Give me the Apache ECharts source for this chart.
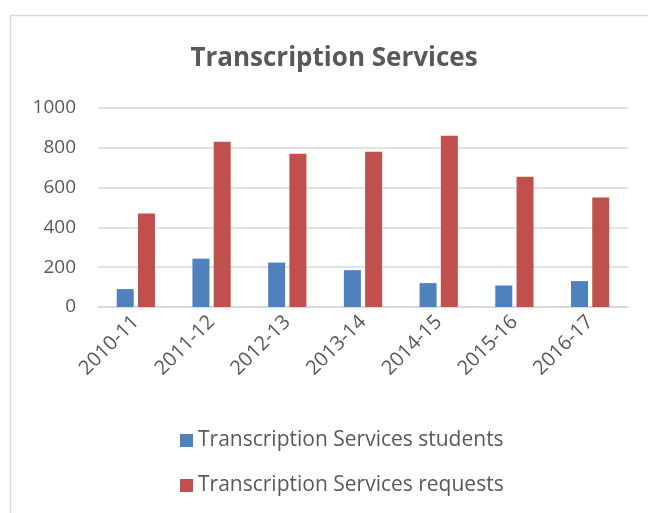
<!DOCTYPE html>
<html>
<head>
<meta charset="utf-8">
<script src="https://cdn.jsdelivr.net/npm/echarts@6/dist/echarts.min.js"></script>
<style>
    html, body { margin: 0; padding: 0; background: #fff; }
    #chart { width: 648px; height: 513px; }
</style>
</head>
<body>
<div id="chart"></div>
<script>
    // 年度
    var categories = ['2010-11', '2011-12', '2012-13', '2013-14', '2014-15', '2015-16', '2016-17'];
    var seriesNames = ['Transcription Services students', 'Transcription Services requests'];
    var students = [90, 243, 223, 185, 120, 108, 130];
    var requests = [470, 830, 770, 780, 860, 655, 550];
    var yTicks = [0, 200, 400, 600, 800, 1000];

    var textColor = '#595959';
    var font = '"Open Sans", "Liberation Sans", sans-serif';

    var chart = echarts.init(document.getElementById('chart'));
    chart.setOption({
        animation: false,
        title: {
            text: 'Transcription Services',
            left: 329,
            textAlign: 'center',
            top: 41,
            textStyle: { fontFamily: font, fontSize: 26, fontWeight: 'bold', color: textColor }
        },
        graphic: [{
            type: 'polyline',
            shape: { points: [[660, 15.5], [10.5, 15.5], [10.5, 530]] },
            style: { fill: 'none', stroke: '#d9d9d9', lineWidth: 1.5 },
            silent: true
        }],
        legend: {
            orient: 'vertical',
            left: 175,
            top: 425,
            itemGap: 24,
            itemWidth: 13,
            itemHeight: 13,
            icon: 'rect',
            data: seriesNames,
            textStyle: { fontFamily: font, fontSize: 21, color: textColor }
        },
        grid: { left: 98, right: 20, top: 108, bottom: 206 },
        xAxis: {
            type: 'category',
            data: categories,
            axisTick: { show: false },
            axisLine: { lineStyle: { color: '#d9d9d9', width: 1.5 } },
            axisLabel: {
                rotate: 45,
                margin: 12,
                interval: 0,
                fontFamily: font,
                fontSize: 20,
                color: textColor
            }
        },
        yAxis: {
            type: 'value',
            min: yTicks[0],
            max: yTicks[yTicks.length - 1],
            interval: 200,
            axisLine: { show: false },
            axisTick: { show: false },
            axisLabel: {
                margin: 22,
                fontFamily: font,
                fontSize: 19,
                color: textColor,
                formatter: function (v) { return String(v); }
            },
            splitLine: { lineStyle: { color: '#d9d9d9', width: 1.5 } }
        },
        series: [
            {
                name: seriesNames[0],
                type: 'bar',
                data: students,
                barWidth: 17,
                barGap: '25%',
                itemStyle: { color: '#4f81bd' }
            },
            {
                name: seriesNames[1],
                type: 'bar',
                data: requests,
                barWidth: 17,
                barGap: '25%',
                itemStyle: { color: '#c0504d' }
            }
        ]
    });
</script>
</body>
</html>
